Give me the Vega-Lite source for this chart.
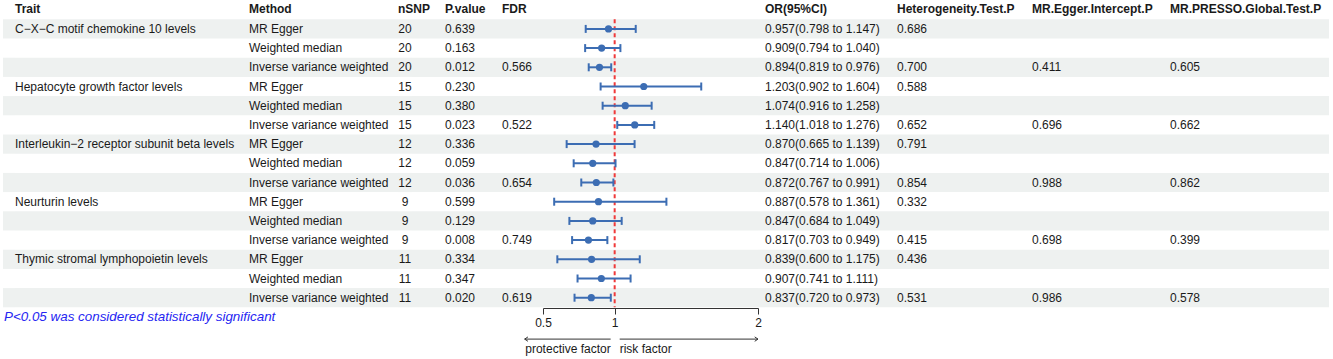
{
  "$schema": "https://vega.github.io/schema/vega-lite/v6.json",
  "padding": {"left": 3, "top": 0, "right": 0, "bottom": 0},
  "bounds": "flush",
  "spacing": 0,
  "config": {
    "view": {"stroke": null},
    "text": {"font": "Liberation Sans", "fontSize": 12, "color": "#1a1a1a", "align": "left", "baseline": "middle"},
    "axis": {"labelFont": "Liberation Sans"}
  },
  "datasets": {
    "rows": [
      {"row": "1", "trait": "C−X−C motif chemokine 10 levels", "method": "MR Egger", "nsnp": "20", "pval": "0.639", "fdr": "", "or": 0.957, "lo": 0.798, "hi": 1.147, "orci": "0.957(0.798 to 1.147)", "het": "0.686", "egger": "", "presso": ""},
      {"row": "2", "trait": "", "method": "Weighted median", "nsnp": "20", "pval": "0.163", "fdr": "", "or": 0.909, "lo": 0.794, "hi": 1.040, "orci": "0.909(0.794 to 1.040)", "het": "", "egger": "", "presso": ""},
      {"row": "3", "trait": "", "method": "Inverse variance weighted", "nsnp": "20", "pval": "0.012", "fdr": "0.566", "or": 0.894, "lo": 0.819, "hi": 0.976, "orci": "0.894(0.819 to 0.976)", "het": "0.700", "egger": "0.411", "presso": "0.605"},
      {"row": "4", "trait": "Hepatocyte growth factor levels", "method": "MR Egger", "nsnp": "15", "pval": "0.230", "fdr": "", "or": 1.203, "lo": 0.902, "hi": 1.604, "orci": "1.203(0.902 to 1.604)", "het": "0.588", "egger": "", "presso": ""},
      {"row": "5", "trait": "", "method": "Weighted median", "nsnp": "15", "pval": "0.380", "fdr": "", "or": 1.074, "lo": 0.916, "hi": 1.258, "orci": "1.074(0.916 to 1.258)", "het": "", "egger": "", "presso": ""},
      {"row": "6", "trait": "", "method": "Inverse variance weighted", "nsnp": "15", "pval": "0.023", "fdr": "0.522", "or": 1.140, "lo": 1.018, "hi": 1.276, "orci": "1.140(1.018 to 1.276)", "het": "0.652", "egger": "0.696", "presso": "0.662"},
      {"row": "7", "trait": "Interleukin−2 receptor subunit beta levels", "method": "MR Egger", "nsnp": "12", "pval": "0.336", "fdr": "", "or": 0.870, "lo": 0.665, "hi": 1.139, "orci": "0.870(0.665 to 1.139)", "het": "0.791", "egger": "", "presso": ""},
      {"row": "8", "trait": "", "method": "Weighted median", "nsnp": "12", "pval": "0.059", "fdr": "", "or": 0.847, "lo": 0.714, "hi": 1.006, "orci": "0.847(0.714 to 1.006)", "het": "", "egger": "", "presso": ""},
      {"row": "9", "trait": "", "method": "Inverse variance weighted", "nsnp": "12", "pval": "0.036", "fdr": "0.654", "or": 0.872, "lo": 0.767, "hi": 0.991, "orci": "0.872(0.767 to 0.991)", "het": "0.854", "egger": "0.988", "presso": "0.862"},
      {"row": "10", "trait": "Neurturin levels", "method": "MR Egger", "nsnp": "9", "pval": "0.599", "fdr": "", "or": 0.887, "lo": 0.578, "hi": 1.361, "orci": "0.887(0.578 to 1.361)", "het": "0.332", "egger": "", "presso": ""},
      {"row": "11", "trait": "", "method": "Weighted median", "nsnp": "9", "pval": "0.129", "fdr": "", "or": 0.847, "lo": 0.684, "hi": 1.049, "orci": "0.847(0.684 to 1.049)", "het": "", "egger": "", "presso": ""},
      {"row": "12", "trait": "", "method": "Inverse variance weighted", "nsnp": "9", "pval": "0.008", "fdr": "0.749", "or": 0.817, "lo": 0.703, "hi": 0.949, "orci": "0.817(0.703 to 0.949)", "het": "0.415", "egger": "0.698", "presso": "0.399"},
      {"row": "13", "trait": "Thymic stromal lymphopoietin levels", "method": "MR Egger", "nsnp": "11", "pval": "0.334", "fdr": "", "or": 0.839, "lo": 0.600, "hi": 1.175, "orci": "0.839(0.600 to 1.175)", "het": "0.436", "egger": "", "presso": ""},
      {"row": "14", "trait": "", "method": "Weighted median", "nsnp": "11", "pval": "0.347", "fdr": "", "or": 0.907, "lo": 0.741, "hi": 1.111, "orci": "0.907(0.741 to 1.111)", "het": "", "egger": "", "presso": ""},
      {"row": "15", "trait": "", "method": "Inverse variance weighted", "nsnp": "11", "pval": "0.020", "fdr": "0.619", "or": 0.837, "lo": 0.720, "hi": 0.973, "orci": "0.837(0.720 to 0.973)", "het": "0.531", "egger": "0.986", "presso": "0.578"}
    ]
  },
  "hconcat": [
    {
      "width": 12, "height": 359,
      "layer": [
        {"data": {"name": "rows"}, "transform": [{"filter": "toNumber(datum.row) % 2 == 1"}], "mark": {"type": "rect", "color": "#eef1f0"}, "encoding": {"y": {"field": "row", "type": "nominal", "scale": {"type": "band", "domain": ["h","1","2","3","4","5","6","7","8","9","10","11","12","13","14","15","f1","f2","f3"], "range": [0.1, 364.9], "paddingInner": 0, "paddingOuter": 0}, "axis": null}}},
        {"data": {"values": [{"label": "P<0.05 was considered statistically significant"}]}, "mark": {"type": "text", "fontStyle": "italic", "fontSize": 13.4, "color": "#2626f2", "dx": 1}, "encoding": {"x": {"datum": 0, "type": "quantitative", "scale": {"domain": [0, 1], "nice": false, "zero": false}, "axis": null}, "y": {"datum": "f1", "type": "nominal", "scale": {"type": "band", "domain": ["h","1","2","3","4","5","6","7","8","9","10","11","12","13","14","15","f1","f2","f3"], "range": [0.1, 364.9], "paddingInner": 0, "paddingOuter": 0}, "axis": null}, "text": {"field": "label"}}}
      ]
    },
    {
      "width": 234, "height": 359,
      "layer": [
        {"data": {"name": "rows"}, "transform": [{"filter": "toNumber(datum.row) % 2 == 1"}], "mark": {"type": "rect", "color": "#eef1f0"}, "encoding": {"y": {"field": "row", "type": "nominal", "scale": {"type": "band", "domain": ["h","1","2","3","4","5","6","7","8","9","10","11","12","13","14","15","f1","f2","f3"], "range": [0.1, 364.9], "paddingInner": 0, "paddingOuter": 0}, "axis": null}}},
        {"data": {"values": [{"label": "Trait"}]}, "mark": {"type": "text", "fontWeight": "bold", "dy": -1}, "encoding": {"x": {"datum": 0, "type": "quantitative", "scale": {"domain": [0, 1], "nice": false, "zero": false}, "axis": null}, "y": {"datum": "h", "type": "nominal", "scale": {"type": "band", "domain": ["h","1","2","3","4","5","6","7","8","9","10","11","12","13","14","15","f1","f2","f3"], "range": [0.1, 364.9], "paddingInner": 0, "paddingOuter": 0}, "axis": null}, "text": {"field": "label"}}},
        {"data": {"name": "rows"}, "mark": {"type": "text"}, "encoding": {"x": {"datum": 0, "type": "quantitative", "scale": {"domain": [0, 1], "nice": false, "zero": false}, "axis": null}, "y": {"field": "row", "type": "nominal", "scale": {"type": "band", "domain": ["h","1","2","3","4","5","6","7","8","9","10","11","12","13","14","15","f1","f2","f3"], "range": [0.1, 364.9], "paddingInner": 0, "paddingOuter": 0}, "axis": null}, "text": {"field": "trait"}}}
      ]
    },
    {
      "width": 149, "height": 359,
      "layer": [
        {"data": {"name": "rows"}, "transform": [{"filter": "toNumber(datum.row) % 2 == 1"}], "mark": {"type": "rect", "color": "#eef1f0"}, "encoding": {"y": {"field": "row", "type": "nominal", "scale": {"type": "band", "domain": ["h","1","2","3","4","5","6","7","8","9","10","11","12","13","14","15","f1","f2","f3"], "range": [0.1, 364.9], "paddingInner": 0, "paddingOuter": 0}, "axis": null}}},
        {"data": {"values": [{"label": "Method"}]}, "mark": {"type": "text", "fontWeight": "bold", "dy": -1}, "encoding": {"x": {"datum": 0, "type": "quantitative", "scale": {"domain": [0, 1], "nice": false, "zero": false}, "axis": null}, "y": {"datum": "h", "type": "nominal", "scale": {"type": "band", "domain": ["h","1","2","3","4","5","6","7","8","9","10","11","12","13","14","15","f1","f2","f3"], "range": [0.1, 364.9], "paddingInner": 0, "paddingOuter": 0}, "axis": null}, "text": {"field": "label"}}},
        {"data": {"name": "rows"}, "mark": {"type": "text"}, "encoding": {"x": {"datum": 0, "type": "quantitative", "scale": {"domain": [0, 1], "nice": false, "zero": false}, "axis": null}, "y": {"field": "row", "type": "nominal", "scale": {"type": "band", "domain": ["h","1","2","3","4","5","6","7","8","9","10","11","12","13","14","15","f1","f2","f3"], "range": [0.1, 364.9], "paddingInner": 0, "paddingOuter": 0}, "axis": null}, "text": {"field": "method"}}}
      ]
    },
    {
      "width": 14, "height": 359,
      "layer": [
        {"data": {"name": "rows"}, "transform": [{"filter": "toNumber(datum.row) % 2 == 1"}], "mark": {"type": "rect", "color": "#eef1f0"}, "encoding": {"y": {"field": "row", "type": "nominal", "scale": {"type": "band", "domain": ["h","1","2","3","4","5","6","7","8","9","10","11","12","13","14","15","f1","f2","f3"], "range": [0.1, 364.9], "paddingInner": 0, "paddingOuter": 0}, "axis": null}}},
        {"data": {"values": [{"label": "nSNP"}]}, "mark": {"type": "text", "fontWeight": "bold", "dy": -1}, "encoding": {"x": {"datum": 0, "type": "quantitative", "scale": {"domain": [0, 1], "nice": false, "zero": false}, "axis": null}, "y": {"datum": "h", "type": "nominal", "scale": {"type": "band", "domain": ["h","1","2","3","4","5","6","7","8","9","10","11","12","13","14","15","f1","f2","f3"], "range": [0.1, 364.9], "paddingInner": 0, "paddingOuter": 0}, "axis": null}, "text": {"field": "label"}}},
        {"data": {"name": "rows"}, "mark": {"type": "text", "align": "center"}, "encoding": {"y": {"field": "row", "type": "nominal", "scale": {"type": "band", "domain": ["h","1","2","3","4","5","6","7","8","9","10","11","12","13","14","15","f1","f2","f3"], "range": [0.1, 364.9], "paddingInner": 0, "paddingOuter": 0}, "axis": null}, "text": {"field": "nsnp"}}}
      ]
    },
    {
      "width": 33, "height": 359,
      "layer": [
        {"data": {"name": "rows"}, "transform": [{"filter": "toNumber(datum.row) % 2 == 1"}], "mark": {"type": "rect", "color": "#eef1f0"}, "encoding": {"y": {"field": "row", "type": "nominal", "scale": {"type": "band", "domain": ["h","1","2","3","4","5","6","7","8","9","10","11","12","13","14","15","f1","f2","f3"], "range": [0.1, 364.9], "paddingInner": 0, "paddingOuter": 0}, "axis": null}}}
      ]
    },
    {
      "width": 57, "height": 359,
      "layer": [
        {"data": {"name": "rows"}, "transform": [{"filter": "toNumber(datum.row) % 2 == 1"}], "mark": {"type": "rect", "color": "#eef1f0"}, "encoding": {"y": {"field": "row", "type": "nominal", "scale": {"type": "band", "domain": ["h","1","2","3","4","5","6","7","8","9","10","11","12","13","14","15","f1","f2","f3"], "range": [0.1, 364.9], "paddingInner": 0, "paddingOuter": 0}, "axis": null}}},
        {"data": {"values": [{"label": "P.value"}]}, "mark": {"type": "text", "fontWeight": "bold", "dy": -1}, "encoding": {"x": {"datum": 0, "type": "quantitative", "scale": {"domain": [0, 1], "nice": false, "zero": false}, "axis": null}, "y": {"datum": "h", "type": "nominal", "scale": {"type": "band", "domain": ["h","1","2","3","4","5","6","7","8","9","10","11","12","13","14","15","f1","f2","f3"], "range": [0.1, 364.9], "paddingInner": 0, "paddingOuter": 0}, "axis": null}, "text": {"field": "label"}}},
        {"data": {"name": "rows"}, "mark": {"type": "text"}, "encoding": {"x": {"datum": 0, "type": "quantitative", "scale": {"domain": [0, 1], "nice": false, "zero": false}, "axis": null}, "y": {"field": "row", "type": "nominal", "scale": {"type": "band", "domain": ["h","1","2","3","4","5","6","7","8","9","10","11","12","13","14","15","f1","f2","f3"], "range": [0.1, 364.9], "paddingInner": 0, "paddingOuter": 0}, "axis": null}, "text": {"field": "pval"}}}
      ]
    },
    {
      "width": 41, "height": 359,
      "layer": [
        {"data": {"name": "rows"}, "transform": [{"filter": "toNumber(datum.row) % 2 == 1"}], "mark": {"type": "rect", "color": "#eef1f0"}, "encoding": {"y": {"field": "row", "type": "nominal", "scale": {"type": "band", "domain": ["h","1","2","3","4","5","6","7","8","9","10","11","12","13","14","15","f1","f2","f3"], "range": [0.1, 364.9], "paddingInner": 0, "paddingOuter": 0}, "axis": null}}},
        {"data": {"values": [{"label": "FDR"}]}, "mark": {"type": "text", "fontWeight": "bold", "dy": -1}, "encoding": {"x": {"datum": 0, "type": "quantitative", "scale": {"domain": [0, 1], "nice": false, "zero": false}, "axis": null}, "y": {"datum": "h", "type": "nominal", "scale": {"type": "band", "domain": ["h","1","2","3","4","5","6","7","8","9","10","11","12","13","14","15","f1","f2","f3"], "range": [0.1, 364.9], "paddingInner": 0, "paddingOuter": 0}, "axis": null}, "text": {"field": "label"}}},
        {"data": {"name": "rows"}, "mark": {"type": "text"}, "encoding": {"x": {"datum": 0, "type": "quantitative", "scale": {"domain": [0, 1], "nice": false, "zero": false}, "axis": null}, "y": {"field": "row", "type": "nominal", "scale": {"type": "band", "domain": ["h","1","2","3","4","5","6","7","8","9","10","11","12","13","14","15","f1","f2","f3"], "range": [0.1, 364.9], "paddingInner": 0, "paddingOuter": 0}, "axis": null}, "text": {"field": "fdr"}}}
      ]
    },
    {
      "width": 215, "height": 359,
      "layer": [
        {"data": {"name": "rows"}, "transform": [{"filter": "toNumber(datum.row) % 2 == 1"}], "mark": {"type": "rect", "color": "#eef1f0"}, "encoding": {"y": {"field": "row", "type": "nominal", "scale": {"type": "band", "domain": ["h","1","2","3","4","5","6","7","8","9","10","11","12","13","14","15","f1","f2","f3"], "range": [0.1, 364.9], "paddingInner": 0, "paddingOuter": 0}, "axis": null}}},
        {"data": {"values": [{}]}, "mark": {"type": "rule", "color": "#f03a3a", "strokeWidth": 2, "strokeDash": [4, 3]}, "encoding": {"x": {"datum": 1, "type": "quantitative", "scale": {"domain": [0.5, 2], "nice": false, "zero": false}, "axis": {"orient": "bottom", "offset": -51, "values": [0.5, 1, 2], "format": "~g", "title": null, "grid": false, "ticks": true, "tickSize": 6, "tickColor": "#333333", "domainColor": "#333333", "labelColor": "#1a1a1a", "labelFontSize": 12, "labelPadding": 3, "labelFlush": false, "labelOverlap": false}}, "y": {"datum": "1", "type": "nominal", "bandPosition": 0, "scale": {"type": "band", "domain": ["h","1","2","3","4","5","6","7","8","9","10","11","12","13","14","15","f1","f2","f3"], "range": [0.1, 364.9], "paddingInner": 0, "paddingOuter": 0}, "axis": null}, "y2": {"datum": "15", "bandPosition": 1}}},
        {"data": {"name": "rows"}, "mark": {"type": "rule", "color": "#3c6db3", "strokeWidth": 2}, "encoding": {"x": {"field": "lo", "type": "quantitative", "scale": {"domain": [0.5, 2], "nice": false, "zero": false}, "axis": {"orient": "bottom", "offset": -51, "values": [0.5, 1, 2], "format": "~g", "title": null, "grid": false, "ticks": true, "tickSize": 6, "tickColor": "#333333", "domainColor": "#333333", "labelColor": "#1a1a1a", "labelFontSize": 12, "labelPadding": 3, "labelFlush": false, "labelOverlap": false}}, "x2": {"field": "hi"}, "y": {"field": "row", "type": "nominal", "scale": {"type": "band", "domain": ["h","1","2","3","4","5","6","7","8","9","10","11","12","13","14","15","f1","f2","f3"], "range": [0.1, 364.9], "paddingInner": 0, "paddingOuter": 0}, "axis": null}}},
        {"data": {"name": "rows"}, "transform": [{"fold": ["lo", "hi"], "as": ["end", "val"]}], "mark": {"type": "tick", "color": "#3c6db3", "thickness": 2, "size": 8, "opacity": 1}, "encoding": {"x": {"field": "val", "type": "quantitative", "scale": {"domain": [0.5, 2], "nice": false, "zero": false}, "axis": {"orient": "bottom", "offset": -51, "values": [0.5, 1, 2], "format": "~g", "title": null, "grid": false, "ticks": true, "tickSize": 6, "tickColor": "#333333", "domainColor": "#333333", "labelColor": "#1a1a1a", "labelFontSize": 12, "labelPadding": 3, "labelFlush": false, "labelOverlap": false}}, "y": {"field": "row", "type": "nominal", "scale": {"type": "band", "domain": ["h","1","2","3","4","5","6","7","8","9","10","11","12","13","14","15","f1","f2","f3"], "range": [0.1, 364.9], "paddingInner": 0, "paddingOuter": 0}, "axis": null}}},
        {"data": {"name": "rows"}, "mark": {"type": "circle", "size": 52, "color": "#3c6db3", "opacity": 1}, "encoding": {"x": {"field": "or", "type": "quantitative", "scale": {"domain": [0.5, 2], "nice": false, "zero": false}, "axis": {"orient": "bottom", "offset": -51, "values": [0.5, 1, 2], "format": "~g", "title": null, "grid": false, "ticks": true, "tickSize": 6, "tickColor": "#333333", "domainColor": "#333333", "labelColor": "#1a1a1a", "labelFontSize": 12, "labelPadding": 3, "labelFlush": false, "labelOverlap": false}}, "y": {"field": "row", "type": "nominal", "scale": {"type": "band", "domain": ["h","1","2","3","4","5","6","7","8","9","10","11","12","13","14","15","f1","f2","f3"], "range": [0.1, 364.9], "paddingInner": 0, "paddingOuter": 0}, "axis": null}}},
        {"data": {"values": [{}]}, "mark": {"type": "rule", "color": "#333333", "strokeWidth": 1, "yOffset": 3}, "encoding": {"x": {"datum": 0.372, "type": "quantitative", "scale": {"domain": [0.5, 2], "nice": false, "zero": false}, "axis": {"orient": "bottom", "offset": -51, "values": [0.5, 1, 2], "format": "~g", "title": null, "grid": false, "ticks": true, "tickSize": 6, "tickColor": "#333333", "domainColor": "#333333", "labelColor": "#1a1a1a", "labelFontSize": 12, "labelPadding": 3, "labelFlush": false, "labelOverlap": false}}, "x2": {"datum": 0.972}, "y": {"datum": "f2", "type": "nominal", "scale": {"type": "band", "domain": ["h","1","2","3","4","5","6","7","8","9","10","11","12","13","14","15","f1","f2","f3"], "range": [0.1, 364.9], "paddingInner": 0, "paddingOuter": 0}, "axis": null}}},
        {"data": {"values": [{}]}, "mark": {"type": "rule", "color": "#333333", "strokeWidth": 1, "yOffset": 3}, "encoding": {"x": {"datum": 1.035, "type": "quantitative", "scale": {"domain": [0.5, 2], "nice": false, "zero": false}, "axis": {"orient": "bottom", "offset": -51, "values": [0.5, 1, 2], "format": "~g", "title": null, "grid": false, "ticks": true, "tickSize": 6, "tickColor": "#333333", "domainColor": "#333333", "labelColor": "#1a1a1a", "labelFontSize": 12, "labelPadding": 3, "labelFlush": false, "labelOverlap": false}}, "x2": {"datum": 2}, "y": {"datum": "f2", "type": "nominal", "scale": {"type": "band", "domain": ["h","1","2","3","4","5","6","7","8","9","10","11","12","13","14","15","f1","f2","f3"], "range": [0.1, 364.9], "paddingInner": 0, "paddingOuter": 0}, "axis": null}}},
        {"data": {"values": [{}]}, "mark": {"type": "point", "shape": "M1.2,-0.8L0,0L1.2,0.8", "size": 30, "filled": false, "stroke": "#333333", "strokeWidth": 1, "opacity": 1, "yOffset": 3}, "encoding": {"x": {"datum": 0.372, "type": "quantitative", "scale": {"domain": [0.5, 2], "nice": false, "zero": false}, "axis": {"orient": "bottom", "offset": -51, "values": [0.5, 1, 2], "format": "~g", "title": null, "grid": false, "ticks": true, "tickSize": 6, "tickColor": "#333333", "domainColor": "#333333", "labelColor": "#1a1a1a", "labelFontSize": 12, "labelPadding": 3, "labelFlush": false, "labelOverlap": false}}, "y": {"datum": "f2", "type": "nominal", "scale": {"type": "band", "domain": ["h","1","2","3","4","5","6","7","8","9","10","11","12","13","14","15","f1","f2","f3"], "range": [0.1, 364.9], "paddingInner": 0, "paddingOuter": 0}, "axis": null}}},
        {"data": {"values": [{}]}, "mark": {"type": "point", "shape": "M-1.2,-0.8L0,0L-1.2,0.8", "size": 30, "filled": false, "stroke": "#333333", "strokeWidth": 1, "opacity": 1, "yOffset": 3}, "encoding": {"x": {"datum": 2, "type": "quantitative", "scale": {"domain": [0.5, 2], "nice": false, "zero": false}, "axis": {"orient": "bottom", "offset": -51, "values": [0.5, 1, 2], "format": "~g", "title": null, "grid": false, "ticks": true, "tickSize": 6, "tickColor": "#333333", "domainColor": "#333333", "labelColor": "#1a1a1a", "labelFontSize": 12, "labelPadding": 3, "labelFlush": false, "labelOverlap": false}}, "y": {"datum": "f2", "type": "nominal", "scale": {"type": "band", "domain": ["h","1","2","3","4","5","6","7","8","9","10","11","12","13","14","15","f1","f2","f3"], "range": [0.1, 364.9], "paddingInner": 0, "paddingOuter": 0}, "axis": null}}},
        {"data": {"values": [{"label": "protective factor"}]}, "mark": {"type": "text", "align": "right", "dy": -6}, "encoding": {"x": {"datum": 0.972, "type": "quantitative", "scale": {"domain": [0.5, 2], "nice": false, "zero": false}, "axis": {"orient": "bottom", "offset": -51, "values": [0.5, 1, 2], "format": "~g", "title": null, "grid": false, "ticks": true, "tickSize": 6, "tickColor": "#333333", "domainColor": "#333333", "labelColor": "#1a1a1a", "labelFontSize": 12, "labelPadding": 3, "labelFlush": false, "labelOverlap": false}}, "y": {"datum": "f3", "type": "nominal", "scale": {"type": "band", "domain": ["h","1","2","3","4","5","6","7","8","9","10","11","12","13","14","15","f1","f2","f3"], "range": [0.1, 364.9], "paddingInner": 0, "paddingOuter": 0}, "axis": null}, "text": {"field": "label"}}},
        {"data": {"values": [{"label": "risk factor"}]}, "mark": {"type": "text", "align": "left", "dy": -6}, "encoding": {"x": {"datum": 1.035, "type": "quantitative", "scale": {"domain": [0.5, 2], "nice": false, "zero": false}, "axis": {"orient": "bottom", "offset": -51, "values": [0.5, 1, 2], "format": "~g", "title": null, "grid": false, "ticks": true, "tickSize": 6, "tickColor": "#333333", "domainColor": "#333333", "labelColor": "#1a1a1a", "labelFontSize": 12, "labelPadding": 3, "labelFlush": false, "labelOverlap": false}}, "y": {"datum": "f3", "type": "nominal", "scale": {"type": "band", "domain": ["h","1","2","3","4","5","6","7","8","9","10","11","12","13","14","15","f1","f2","f3"], "range": [0.1, 364.9], "paddingInner": 0, "paddingOuter": 0}, "axis": null}, "text": {"field": "label"}}}
      ]
    },
    {
      "width": 7, "height": 359,
      "layer": [
        {"data": {"name": "rows"}, "transform": [{"filter": "toNumber(datum.row) % 2 == 1"}], "mark": {"type": "rect", "color": "#eef1f0"}, "encoding": {"y": {"field": "row", "type": "nominal", "scale": {"type": "band", "domain": ["h","1","2","3","4","5","6","7","8","9","10","11","12","13","14","15","f1","f2","f3"], "range": [0.1, 364.9], "paddingInner": 0, "paddingOuter": 0}, "axis": null}}}
      ]
    },
    {
      "width": 132, "height": 359,
      "layer": [
        {"data": {"name": "rows"}, "transform": [{"filter": "toNumber(datum.row) % 2 == 1"}], "mark": {"type": "rect", "color": "#eef1f0"}, "encoding": {"y": {"field": "row", "type": "nominal", "scale": {"type": "band", "domain": ["h","1","2","3","4","5","6","7","8","9","10","11","12","13","14","15","f1","f2","f3"], "range": [0.1, 364.9], "paddingInner": 0, "paddingOuter": 0}, "axis": null}}},
        {"data": {"values": [{"label": "OR(95%CI)"}]}, "mark": {"type": "text", "fontWeight": "bold", "dy": -1}, "encoding": {"x": {"datum": 0, "type": "quantitative", "scale": {"domain": [0, 1], "nice": false, "zero": false}, "axis": null}, "y": {"datum": "h", "type": "nominal", "scale": {"type": "band", "domain": ["h","1","2","3","4","5","6","7","8","9","10","11","12","13","14","15","f1","f2","f3"], "range": [0.1, 364.9], "paddingInner": 0, "paddingOuter": 0}, "axis": null}, "text": {"field": "label"}}},
        {"data": {"name": "rows"}, "mark": {"type": "text"}, "encoding": {"x": {"datum": 0, "type": "quantitative", "scale": {"domain": [0, 1], "nice": false, "zero": false}, "axis": null}, "y": {"field": "row", "type": "nominal", "scale": {"type": "band", "domain": ["h","1","2","3","4","5","6","7","8","9","10","11","12","13","14","15","f1","f2","f3"], "range": [0.1, 364.9], "paddingInner": 0, "paddingOuter": 0}, "axis": null}, "text": {"field": "orci"}}}
      ]
    },
    {
      "width": 135, "height": 359,
      "layer": [
        {"data": {"name": "rows"}, "transform": [{"filter": "toNumber(datum.row) % 2 == 1"}], "mark": {"type": "rect", "color": "#eef1f0"}, "encoding": {"y": {"field": "row", "type": "nominal", "scale": {"type": "band", "domain": ["h","1","2","3","4","5","6","7","8","9","10","11","12","13","14","15","f1","f2","f3"], "range": [0.1, 364.9], "paddingInner": 0, "paddingOuter": 0}, "axis": null}}},
        {"data": {"values": [{"label": "Heterogeneity.Test.P"}]}, "mark": {"type": "text", "fontWeight": "bold", "dy": -1}, "encoding": {"x": {"datum": 0, "type": "quantitative", "scale": {"domain": [0, 1], "nice": false, "zero": false}, "axis": null}, "y": {"datum": "h", "type": "nominal", "scale": {"type": "band", "domain": ["h","1","2","3","4","5","6","7","8","9","10","11","12","13","14","15","f1","f2","f3"], "range": [0.1, 364.9], "paddingInner": 0, "paddingOuter": 0}, "axis": null}, "text": {"field": "label"}}},
        {"data": {"name": "rows"}, "mark": {"type": "text"}, "encoding": {"x": {"datum": 0, "type": "quantitative", "scale": {"domain": [0, 1], "nice": false, "zero": false}, "axis": null}, "y": {"field": "row", "type": "nominal", "scale": {"type": "band", "domain": ["h","1","2","3","4","5","6","7","8","9","10","11","12","13","14","15","f1","f2","f3"], "range": [0.1, 364.9], "paddingInner": 0, "paddingOuter": 0}, "axis": null}, "text": {"field": "het"}}}
      ]
    },
    {
      "width": 138, "height": 359,
      "layer": [
        {"data": {"name": "rows"}, "transform": [{"filter": "toNumber(datum.row) % 2 == 1"}], "mark": {"type": "rect", "color": "#eef1f0"}, "encoding": {"y": {"field": "row", "type": "nominal", "scale": {"type": "band", "domain": ["h","1","2","3","4","5","6","7","8","9","10","11","12","13","14","15","f1","f2","f3"], "range": [0.1, 364.9], "paddingInner": 0, "paddingOuter": 0}, "axis": null}}},
        {"data": {"values": [{"label": "MR.Egger.Intercept.P"}]}, "mark": {"type": "text", "fontWeight": "bold", "dy": -1}, "encoding": {"x": {"datum": 0, "type": "quantitative", "scale": {"domain": [0, 1], "nice": false, "zero": false}, "axis": null}, "y": {"datum": "h", "type": "nominal", "scale": {"type": "band", "domain": ["h","1","2","3","4","5","6","7","8","9","10","11","12","13","14","15","f1","f2","f3"], "range": [0.1, 364.9], "paddingInner": 0, "paddingOuter": 0}, "axis": null}, "text": {"field": "label"}}},
        {"data": {"name": "rows"}, "mark": {"type": "text"}, "encoding": {"x": {"datum": 0, "type": "quantitative", "scale": {"domain": [0, 1], "nice": false, "zero": false}, "axis": null}, "y": {"field": "row", "type": "nominal", "scale": {"type": "band", "domain": ["h","1","2","3","4","5","6","7","8","9","10","11","12","13","14","15","f1","f2","f3"], "range": [0.1, 364.9], "paddingInner": 0, "paddingOuter": 0}, "axis": null}, "text": {"field": "egger"}}}
      ]
    },
    {
      "width": 159, "height": 359,
      "layer": [
        {"data": {"name": "rows"}, "transform": [{"filter": "toNumber(datum.row) % 2 == 1"}], "mark": {"type": "rect", "color": "#eef1f0"}, "encoding": {"y": {"field": "row", "type": "nominal", "scale": {"type": "band", "domain": ["h","1","2","3","4","5","6","7","8","9","10","11","12","13","14","15","f1","f2","f3"], "range": [0.1, 364.9], "paddingInner": 0, "paddingOuter": 0}, "axis": null}}},
        {"data": {"values": [{"label": "MR.PRESSO.Global.Test.P"}]}, "mark": {"type": "text", "fontWeight": "bold", "dy": -1}, "encoding": {"x": {"datum": 0, "type": "quantitative", "scale": {"domain": [0, 1], "nice": false, "zero": false}, "axis": null}, "y": {"datum": "h", "type": "nominal", "scale": {"type": "band", "domain": ["h","1","2","3","4","5","6","7","8","9","10","11","12","13","14","15","f1","f2","f3"], "range": [0.1, 364.9], "paddingInner": 0, "paddingOuter": 0}, "axis": null}, "text": {"field": "label"}}},
        {"data": {"name": "rows"}, "mark": {"type": "text"}, "encoding": {"x": {"datum": 0, "type": "quantitative", "scale": {"domain": [0, 1], "nice": false, "zero": false}, "axis": null}, "y": {"field": "row", "type": "nominal", "scale": {"type": "band", "domain": ["h","1","2","3","4","5","6","7","8","9","10","11","12","13","14","15","f1","f2","f3"], "range": [0.1, 364.9], "paddingInner": 0, "paddingOuter": 0}, "axis": null}, "text": {"field": "presso"}}}
      ]
    }
  ]
}
